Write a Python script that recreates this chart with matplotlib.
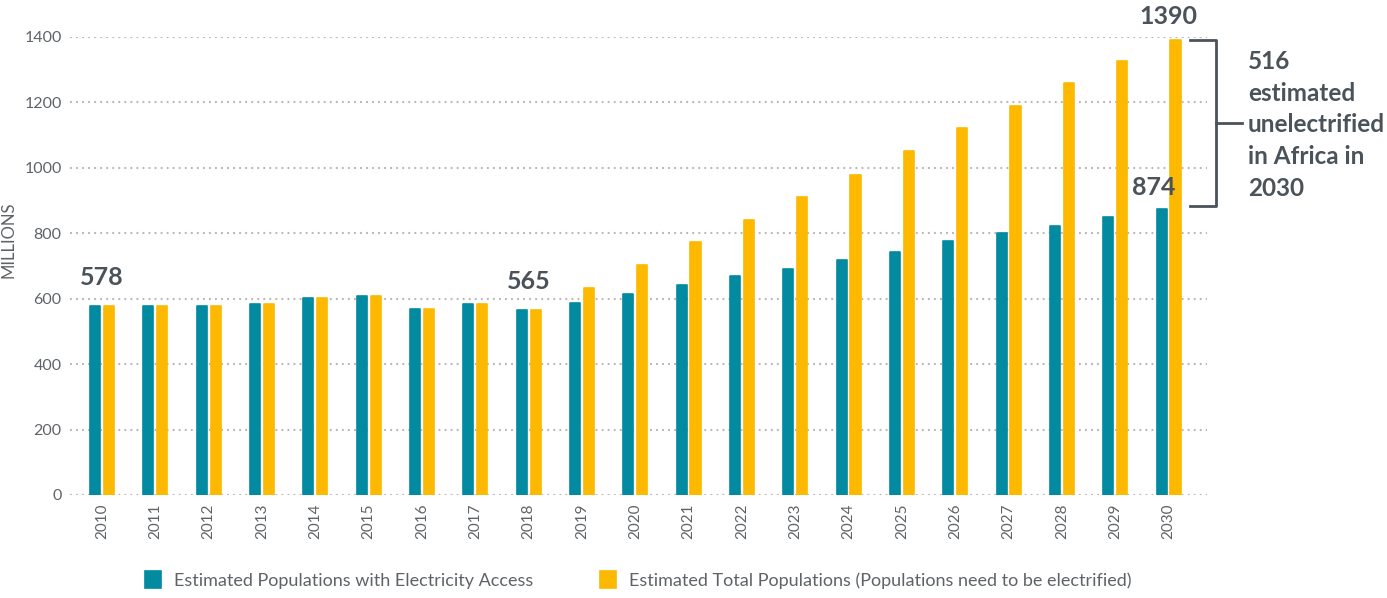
import numpy as np
import matplotlib
matplotlib.use('Agg')
import matplotlib.pyplot as plt
from matplotlib.lines import Line2D

plt.rcParams['font.family'] = ['Lato', 'DejaVu Sans']

# ── 数据 ──
years = [str(y) for y in range(2010, 2031)]
with_access = [578, 578, 578, 585, 602, 608, 569, 585, 565, 587, 615, 642,
               668, 692, 719, 744, 775, 801, 823, 851, 874]
total_pop = [578, 578, 578, 585, 602, 608, 569, 585, 565, 633, 702, 772,
             841, 911, 979, 1051, 1121, 1190, 1260, 1327, 1390]
yticks = [0, 200, 400, 600, 800, 1000, 1200, 1400]

label_access = "Estimated Populations with Electricity Access"
label_total = "Estimated Total Populations (Populations need to be electrified)"

TEAL = '#018aa0'
GOLD = '#fcb900'
DARK = '#4a525a'
GREY = '#5f6368'

fig = plt.figure(figsize=(13.87, 5.98), dpi=100)
ax = fig.add_axes([70 / 1387, 1 - 495 / 598, (1207 - 70) / 1387, (495 - 37) / 598])

x = np.arange(len(years))
w = 0.19
off = 0.13
# 圆角柱: 同色描边 + round joinstyle
b1 = ax.bar(x - off, with_access, w, color=TEAL, edgecolor=TEAL, lw=1.2,
            joinstyle='round', label=label_access, zorder=3)
b2 = ax.bar(x + off, total_pop, w, color=GOLD, edgecolor=GOLD, lw=1.2,
            joinstyle='round', label=label_total, zorder=3)

ax.set_xlim(-0.6, 20.72)
ax.set_ylim(0, 1400)
ax.set_yticks(yticks)
ax.set_yticklabels([str(v) for v in yticks], fontsize=11.5, color=GREY)
ax.set_xticks(x)
ax.set_xticklabels(years, rotation=90, fontsize=11, color=GREY)
ax.tick_params(length=0, pad=6)
for s in ax.spines.values():
    s.set_visible(False)
ax.yaxis.grid(True, linestyle=(0, (0.9, 2.0)), color='#b8b8b8', lw=1.5, zorder=0)
ax.set_axisbelow(True)
ax.set_ylabel('MILLIONS', fontsize=12, color=GREY)
ax.yaxis.set_label_coords(-0.047, 0.557)

# ── 数值标注 ──
lab = dict(fontsize=18, fontweight='bold', color=DARK, ha='center', va='center')
ax.text(0, 664, str(with_access[0]), **lab)
ax.text(8, 652, str(with_access[8]), **lab)
ax.text(20, 1462, str(total_pop[-1]), **lab, clip_on=False)
ax.text(19.73, 940, str(with_access[-1]), **lab)

# ── 括号 ──
gap = total_pop[-1] - with_access[-1]
bx0, bx1, bx2 = 20.4, 20.88, 21.38
ytop, ybot = total_pop[-1], with_access[-1] + 10
ymid = (ytop + ybot) / 2
ax.add_line(Line2D([bx0, bx1, bx1, bx0], [ytop, ytop, ybot, ybot],
                   color=DARK, lw=2, clip_on=False))
ax.add_line(Line2D([bx1, bx2], [ymid, ymid], color=DARK, lw=2, clip_on=False))
fig.text(1248 / 1387, 1 - 125 / 598,
         f"{gap}\nestimated\nunelectrified\nin Africa in\n2030",
         fontsize=17.5, fontweight='bold', color=DARK, ha='left', va='center',
         linespacing=1.45)

# ── 图例 ──
fig.legend(handles=[b1, b2], loc='center', bbox_to_anchor=(0.4603, 1 - 580 / 598),
           ncol=2, frameon=False, fontsize=13, handlelength=0.85, handleheight=1.1,
           columnspacing=3.7, handletextpad=0.75, labelcolor=GREY)

fig.savefig('out.png', dpi=100)
